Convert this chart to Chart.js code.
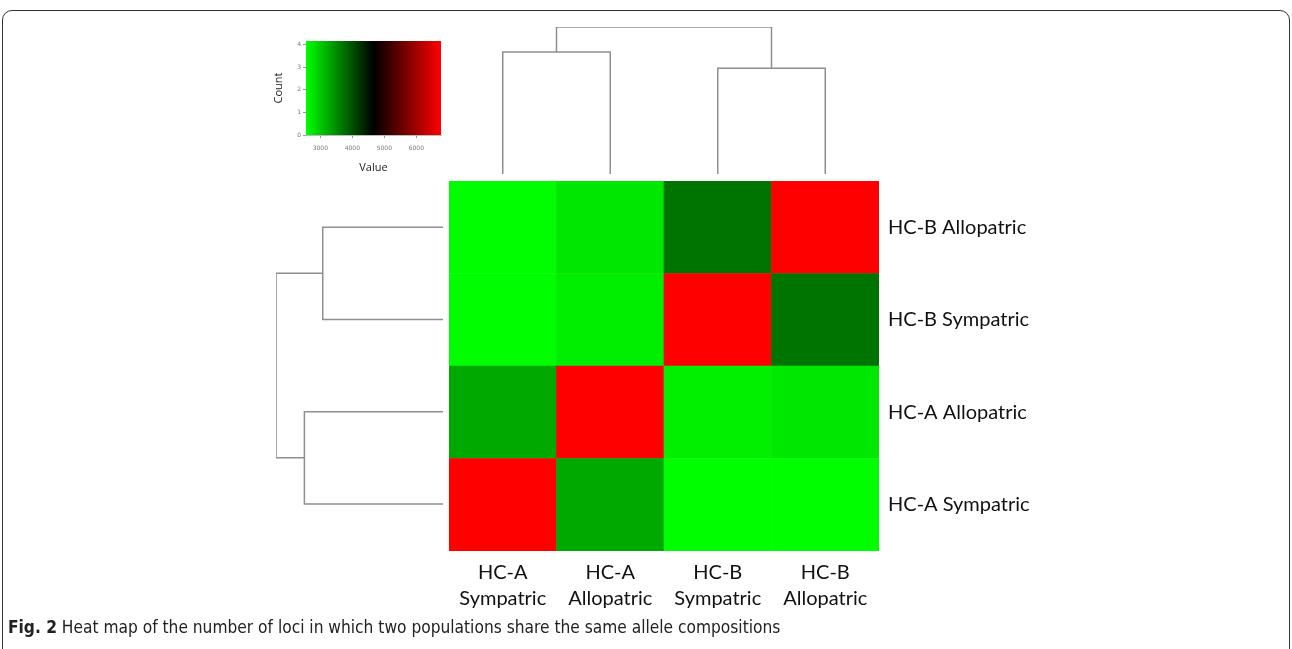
<!DOCTYPE html>
<html>
<head>
<meta charset="utf-8">
<script src="https://cdn.jsdelivr.net/npm/chart.js@4.4.1/dist/chart.umd.min.js"></script>
<style>
  html, body { margin: 0; padding: 0; background: #fff; }
  body { width: 1292px; height: 649px; position: relative; overflow: hidden; }
  .frame { position: absolute; left: 2px; top: 10px; width: 1286px; height: 700px;
           border: 1.5px solid #333; border-radius: 10px; }
  .box { position: absolute; }
  .caption { position: absolute; left: 8px; top: 617px; font-family: 'Liberation Sans Narrow', 'DejaVu Sans Condensed', 'Liberation Sans', sans-serif;
             font-size: 17.2px; color: #222; white-space: nowrap; }
  .caption b { font-weight: bold; }
</style>
</head>
<body>
<div class="frame"></div>
<div class="box" style="left:268px; top:41px; width:180px; height:137px;"><canvas id="keyChart"></canvas></div>
<div class="box" style="left:449px; top:27px; width:430px; height:147px;"><canvas id="colTree"></canvas></div>
<div class="box" style="left:276px; top:181px; width:167px; height:369px;"><canvas id="rowTree"></canvas></div>
<div class="box" style="left:440px; top:170px; width:599px; height:461px;"><canvas id="heatmap"></canvas></div>
<div class="caption"><b>Fig. 2</b> Heat map of the number of loci in which two populations share the same allele compositions</div>
<script>
// populations, bottom-to-top for rows and left-to-right for columns
const populations = ['HC-A Sympatric', 'HC-A Allopatric', 'HC-B Sympatric', 'HC-B Allopatric'];
const columnLabels = [['HC-A', 'Sympatric'], ['HC-A', 'Allopatric'], ['HC-B', 'Sympatric'], ['HC-B', 'Allopatric']];

// shared loci counts
const hcaSympatric  = [6770, 3260, 2560, 2560];
const hcaAllopatric = [3260, 6770, 2680, 2750];
const hcbSympatric  = [2560, 2690, 6770, 3700];
const hcbAllopatric = [2560, 2750, 3700, 6770];
const matrixRows = [hcaSympatric, hcaAllopatric, hcbSympatric, hcbAllopatric];

// colour key
const keyMin = 2553;
const keyMax = 6770;
const keyTicks = [3000, 4000, 5000, 6000];
const countTicks = [0, 1, 2, 3, 4];

// hierarchical clustering (hclust style: negative = leaf, positive = merge)
const mergePairs = [[-1, -2], [-3, -4], [1, 2]];
const mergeHeights = [0.83, 0.72, 1.0];

const lineColor = '#8f8f8f';
const labelFont = { family: 'Lato, "Open Sans", sans-serif', size: 20, lineHeight: 1.3 };

function valueColor(v) {
    const t = Math.min(1, Math.max(0, (v - keyMin) / (keyMax - keyMin)));
    if (t < 0.5) return 'rgb(0,' + Math.round(255 * (1 - 2 * t)) + ',0)';
    return 'rgb(' + Math.round(255 * (2 * t - 1)) + ',0,0)';
}

// builds U-shaped link segments for a dendrogram
function dendrogramSegments(horizontal) {
    const pos = [], hgt = [];
    const place = (id) => id < 0 ? [(-id - 1) + 0.5, 0] : [pos[id - 1], hgt[id - 1]];
    const sets = [];
    mergePairs.forEach((pair, i) => {
        const [p1, h1] = place(pair[0]);
        const [p2, h2] = place(pair[1]);
        const H = mergeHeights[i];
        pos.push((p1 + p2) / 2);
        hgt.push(H);
        let pts = [[p1, h1], [p1, H], [p2, H], [p2, h2]];
        pts = pts.map(([p, h]) => horizontal ? { x: h, y: p } : { x: p, y: h });
        sets.push({
            data: pts, showLine: true, borderColor: lineColor, borderWidth: 1.5,
            pointRadius: 0, fill: false, tension: 0, clip: false
        });
    });
    return sets;
}

const noPad = (s) => { s.paddingTop = 0; s.paddingBottom = 0; };

Chart.defaults.animation = false;
Chart.defaults.maintainAspectRatio = false;
Chart.defaults.responsive = true;

// column dendrogram
new Chart(document.getElementById('colTree'), {
    type: 'scatter',
    data: { datasets: dendrogramSegments(false) },
    options: {
        layout: { padding: 0 },
        plugins: { legend: { display: false }, tooltip: { enabled: false } },
        scales: {
            x: { type: 'linear', min: 0, max: populations.length, display: false },
            y: { type: 'linear', min: 0, max: 1, display: false }
        }
    }
});

// row dendrogram
new Chart(document.getElementById('rowTree'), {
    type: 'scatter',
    data: { datasets: dendrogramSegments(true) },
    options: {
        layout: { padding: 0 },
        plugins: { legend: { display: false }, tooltip: { enabled: false } },
        scales: {
            x: { type: 'linear', min: 0, max: 1, reverse: true, display: false },
            y: { type: 'linear', min: 0, max: populations.length, display: false }
        }
    }
});

// heat map as floating bars, one dataset per row
new Chart(document.getElementById('heatmap'), {
    type: 'bar',
    data: {
        labels: columnLabels,
        datasets: matrixRows.map((row, r) => ({
            label: populations[r],
            data: row.map(() => [r, r + 1]),
            backgroundColor: row.map(valueColor),
            borderWidth: 0,
            borderSkipped: false,
            barPercentage: 1,
            categoryPercentage: 1,
            grouped: false
        }))
    },
    options: {
        layout: { padding: { left: 9, top: 11, right: 0, bottom: 0 } },
        plugins: { legend: { display: false }, tooltip: { enabled: false } },
        scales: {
            x: {
                grid: { display: false, drawTicks: false }, border: { display: false },
                ticks: { color: '#111', font: labelFont, padding: 9, maxRotation: 0, autoSkip: false },
                afterFit: (s) => { s.height = 80; }
            },
            y: {
                position: 'right', min: 0, max: populations.length,
                grid: { display: false, drawTicks: false }, border: { display: false },
                afterBuildTicks: (s) => { s.ticks = populations.map((p, i) => ({ value: i + 0.5 })); },
                ticks: {
                    color: '#111', font: labelFont, padding: 9,
                    callback: (v) => populations[Math.floor(v)]
                },
                afterFit: (s) => { s.width = 160; noPad(s); }
            }
        }
    }
});

// colour key
new Chart(document.getElementById('keyChart'), {
    type: 'scatter',
    data: {
        datasets: [{
            data: [{ x: keyMin, y: 0 }, { x: keyMax, y: 0 }],
            showLine: true, borderWidth: 0, pointRadius: 0, fill: 'end',
            backgroundColor: (c) => {
                const area = c.chart.chartArea;
                if (!area) return 'green';
                const g = c.chart.ctx.createLinearGradient(area.left, 0, area.right, 0);
                g.addColorStop(0, 'rgb(0,255,0)');
                g.addColorStop(0.5, 'rgb(0,0,0)');
                g.addColorStop(1, 'rgb(255,0,0)');
                return g;
            }
        }]
    },
    options: {
        layout: { padding: { top: 0, right: 7, left: 0, bottom: 0 } },
        plugins: { legend: { display: false }, tooltip: { enabled: false } },
        scales: {
            x: {
                type: 'linear', min: keyMin, max: keyMax,
                afterBuildTicks: (s) => { s.ticks = keyTicks.map(v => ({ value: v })); },
                grid: { drawOnChartArea: false, tickLength: 3, color: '#999' },
                border: { color: '#bbb' },
                ticks: { color: '#777', font: { size: 6, family: 'DejaVu Sans' }, padding: 7, maxRotation: 0,
                         callback: (v) => String(v) },
                title: { display: true, text: 'Value', color: '#222', font: { size: 11, family: '"Open Sans", sans-serif' }, padding: { top: 0, bottom: 4 } },
                afterFit: (s) => { s.height = 43; }
            },
            y: {
                type: 'linear', min: 0, max: 4.15,
                afterBuildTicks: (s) => { s.ticks = countTicks.map(v => ({ value: v })); },
                grid: { drawOnChartArea: false, tickLength: 3, color: '#999' },
                border: { color: '#bbb' },
                ticks: { color: '#777', font: { size: 6, family: 'DejaVu Sans' }, padding: 2 },
                title: { display: true, text: 'Count', color: '#222', font: { size: 11, family: '"Open Sans", sans-serif' }, padding: { bottom: 4 } },
                afterFit: (s) => { s.width = 38; noPad(s); }
            }
        }
    }
});
</script>
</body>
</html>
